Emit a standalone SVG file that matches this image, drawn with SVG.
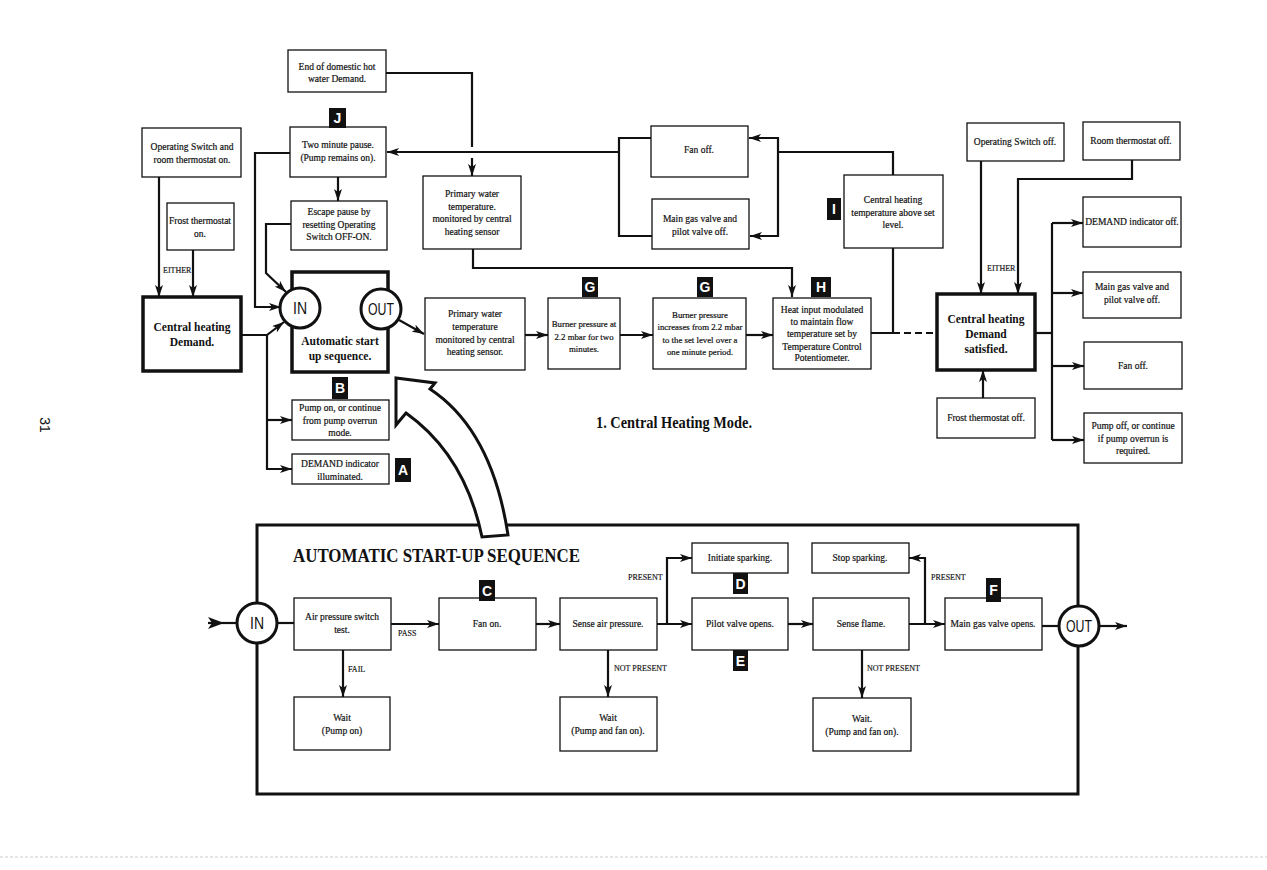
<svg xmlns="http://www.w3.org/2000/svg" width="1267" height="870" viewBox="0 0 1267 870">
<defs>
<style>
.b{fill:#fff;stroke:#111;stroke-width:1.3}
.tb{fill:#fff;stroke:#111;stroke-width:3.5}
.t{font-family:"Liberation Serif",serif;font-size:9.5px;text-anchor:middle;fill:#111;stroke:#111;stroke-width:0.2}
.n{font-size:8.8px}
.h{font-family:"Liberation Serif",serif;font-size:11.5px;font-weight:bold;text-anchor:middle;fill:#111}
.s{font-family:"Liberation Serif",serif;font-size:8px;fill:#111;stroke:#111;stroke-width:0.15}
.c{fill:none;stroke:#111;stroke-width:2.2}
.cir{fill:#fff;stroke:#111;stroke-width:3}
.io{font-family:"Liberation Sans",sans-serif;font-size:16px;text-anchor:middle;fill:#111}
.lr{fill:#111}
.lt{font-family:"Liberation Sans",sans-serif;font-size:14px;font-weight:bold;text-anchor:middle;fill:#fff}
</style>
<marker id="ah" viewBox="0 0 12 8" refX="12" refY="4" markerWidth="12" markerHeight="8" orient="auto" markerUnits="userSpaceOnUse"><path d="M0,0 L12,4 L0,8 L3,4 z" fill="#111"/></marker>
</defs>
<rect x="0" y="0" width="1267" height="870" fill="#fff"/>
<line x1="0" y1="857" x2="1267" y2="857" stroke="#ccc" stroke-width="1" stroke-dasharray="3 2"/>
<text x="40" y="425" transform="rotate(90 40 425)" font-family="Liberation Sans,sans-serif" font-size="14" text-anchor="middle" fill="#111">31</text>

<g id="startupFrame">
<rect x="257" y="525" width="821" height="269" fill="none" stroke="#111" stroke-width="3"/>
<text x="293" y="562" font-family="Liberation Serif,serif" font-size="18" font-weight="bold" textLength="287" lengthAdjust="spacingAndGlyphs" fill="#111">AUTOMATIC START-UP SEQUENCE</text>
</g>

<g id="connectors">
<path class="c" d="M386,73 H472 V147"/>
<path class="c" d="M472,158 V176" marker-end="url(#ah)"/>
<path class="c" d="M619,152 H387" marker-end="url(#ah)"/>
<path class="c" d="M651,138 H619 V236 H652"/>
<path class="c" d="M871,333 H893 V248"/>
<path class="c" d="M893,175 V152 H778"/>
<path class="c" d="M778,152 V138 H749" marker-end="url(#ah)"/>
<path class="c" d="M778,152 V236 H750" marker-end="url(#ah)"/>
<path class="c" d="M893,333 H937" stroke-dasharray="7 4"/>
<path class="c" d="M473,249 V268 H792 V297" marker-end="url(#ah)"/>
<path class="c" d="M399,320 L424,334" marker-end="url(#ah)"/>
<path class="c" d="M525,335 H548" marker-end="url(#ah)"/>
<path class="c" d="M620,335 H653" marker-end="url(#ah)"/>
<path class="c" d="M746,335 H773" marker-end="url(#ah)"/>
<path class="c" d="M338,177 V201" marker-end="url(#ah)"/>
<path class="c" d="M290,153 H255 V307 H281" marker-end="url(#ah)"/>
<path class="c" d="M291,224 H266 V273 L286,292" marker-end="url(#ah)"/>
<path class="c" d="M241,335 H267 L284,322" marker-end="url(#ah)"/>
<path class="c" d="M267,335 V469 H292" marker-end="url(#ah)"/>
<path class="c" d="M267,420 H292" marker-end="url(#ah)"/>
<path class="c" d="M159,177 V297" marker-end="url(#ah)"/>
<path class="c" d="M193,250 V297" marker-end="url(#ah)"/>
<path class="c" d="M981,161 V294" marker-end="url(#ah)"/>
<path class="c" d="M1132,160 V179 H1018 V294" marker-end="url(#ah)"/>
<path class="c" d="M983,398 V370" marker-end="url(#ah)"/>
<path class="c" d="M1035,333 H1052"/>
<path class="c" d="M1052,223 V440"/>
<path class="c" d="M1052,223 H1083" marker-end="url(#ah)"/>
<path class="c" d="M1052,293 H1083" marker-end="url(#ah)"/>
<path class="c" d="M1052,366 H1084" marker-end="url(#ah)"/>
<path class="c" d="M1052,440 H1084" marker-end="url(#ah)"/>
<path class="c" d="M208,623 H237"/>
<path d="M208,617 L224,623 L208,629 L212,623 z" fill="#111"/>
<path class="c" d="M277,623 H294"/>
<path class="c" d="M391,624 H439" marker-end="url(#ah)"/>
<path class="c" d="M536,624 H560" marker-end="url(#ah)"/>
<path class="c" d="M657,624 H692" marker-end="url(#ah)"/>
<path class="c" d="M667,624 V558 H692" marker-end="url(#ah)"/>
<path class="c" d="M788,624 H813" marker-end="url(#ah)"/>
<path class="c" d="M909,624 H945" marker-end="url(#ah)"/>
<path class="c" d="M925,624 V558 H909" marker-end="url(#ah)"/>
<path class="c" d="M1042,626 H1059"/>
<path class="c" d="M1099,626 H1127" marker-end="url(#ah)"/>
<path class="c" d="M343,650 V697" marker-end="url(#ah)"/>
<path class="c" d="M608,650 V697" marker-end="url(#ah)"/>
<path class="c" d="M862,650 V698" marker-end="url(#ah)"/>
<path d="M396,378 L396,425 L406,413 Q465,455 482,537 L508,535 Q492,430 430,389 L435,383 Z" fill="#fff" stroke="#111" stroke-width="3" stroke-linejoin="miter"/>
</g>

<g id="edgeLabels">
<text class="s" x="163" y="273">EITHER</text>
<text class="s" x="987" y="271">EITHER</text>
<text class="s" x="398" y="636">PASS</text>
<text class="s" x="348" y="672">FAIL</text>
<text class="s" x="628" y="580">PRESENT</text>
<text class="s" x="931" y="580">PRESENT</text>
<text class="s" x="614" y="671">NOT PRESENT</text>
<text class="s" x="867" y="671">NOT PRESENT</text>
<text x="596" y="428" font-family="Liberation Serif,serif" font-size="17" font-weight="bold" textLength="156" lengthAdjust="spacingAndGlyphs" fill="#111">1. Central Heating Mode.</text>
</g>

<g id="endDHW"><rect class="b" x="288" y="50" width="98" height="42"/><text class="t" x="337" y="70">End of domestic hot</text><text class="t" x="337" y="82">water Demand.</text></g>
<g id="twoMin"><rect class="b" x="290" y="127" width="96" height="50"/><text class="t" x="338" y="148">Two minute pause.</text><text class="t" x="338" y="161">(Pump remains on).</text></g>
<g id="escape"><rect class="b" x="291" y="201" width="96" height="49"/><text class="t" x="339" y="215">Escape pause by</text><text class="t" x="339" y="228">resetting Operating</text><text class="t" x="339" y="240">Switch OFF-ON.</text></g>
<g id="opOn"><rect class="b" x="142" y="128" width="99" height="49"/><text class="t" x="192" y="150">Operating Switch and</text><text class="t" x="192" y="163">room thermostat on.</text></g>
<g id="frostOn"><rect class="b" x="167" y="203" width="67" height="47"/><text class="t" x="200" y="224">Frost thermostat</text><text class="t" x="200" y="237">on.</text></g>
<g id="chDemand"><rect class="tb" x="143" y="297" width="98" height="74"/><text class="h" x="192" y="331">Central heating</text><text class="h" x="192" y="346">Demand.</text></g>
<g id="autoStart"><rect class="tb" x="292" y="272" width="96" height="100"/>
<circle class="cir" cx="300" cy="308" r="20"/><text class="io" x="300" y="314" textLength="14" lengthAdjust="spacingAndGlyphs">IN</text>
<circle class="cir" cx="381" cy="309" r="20"/><text class="io" x="381" y="315" textLength="26" lengthAdjust="spacingAndGlyphs">OUT</text>
<text class="h" x="340" y="345">Automatic start</text><text class="h" x="340" y="360">up sequence.</text></g>
<g id="pumpOn"><rect class="b" x="292" y="400" width="97" height="40"/><text class="t" x="340" y="411">Pump on, or continue</text><text class="t" x="340" y="424">from pump overrun</text><text class="t" x="340" y="436">mode.</text></g>
<g id="demandInd"><rect class="b" x="292" y="454" width="97" height="30"/><text class="t" x="340" y="467">DEMAND indicator</text><text class="t" x="340" y="480">illuminated.</text></g>
<g id="primary1"><rect class="b" x="423" y="176" width="98" height="73"/><text class="t" x="472" y="197">Primary water</text><text class="t" x="472" y="210">temperature.</text><text class="t" x="472" y="222">monitored by central</text><text class="t" x="472" y="235">heating sensor</text></g>
<g id="fanOff1"><rect class="b" x="651" y="126" width="97" height="51"/><text class="t" x="699" y="153">Fan off.</text></g>
<g id="mainGas1"><rect class="b" x="652" y="199" width="97" height="50"/><text class="t" x="700" y="222">Main gas valve and</text><text class="t" x="700" y="235">pilot valve off.</text></g>
<g id="chTemp"><rect class="b" x="844" y="175" width="99" height="73"/><text class="t" x="893" y="203">Central heating</text><text class="t" x="893" y="216">temperature above set</text><text class="t" x="893" y="228">level.</text></g>
<g id="primary2"><rect class="b" x="425" y="298" width="100" height="72"/><text class="t" x="475" y="317">Primary water</text><text class="t" x="475" y="330">temperature</text><text class="t" x="475" y="343">monitored by central</text><text class="t" x="475" y="355">heating sensor.</text></g>
<g id="burner1"><rect class="b" x="548" y="298" width="72" height="71"/><text class="t n" x="584" y="327">Burner pressure at</text><text class="t n" x="584" y="340">2.2 mbar for two</text><text class="t n" x="584" y="352">minutes.</text></g>
<g id="burner2"><rect class="b" x="653" y="298" width="93" height="71"/><text class="t n" x="700" y="318">Burner pressure</text><text class="t n" x="700" y="330">increases from 2.2 mbar</text><text class="t n" x="700" y="343">to the set level over a</text><text class="t n" x="700" y="355">one minute period.</text></g>
<g id="heatInput"><rect class="b" x="773" y="298" width="98" height="71"/><text class="t" x="822" y="313">Heat input modulated</text><text class="t" x="822" y="325">to maintain flow</text><text class="t" x="822" y="337">temperature set by</text><text class="t" x="822" y="350">Temperature Control</text><text class="t" x="822" y="361">Potentiometer.</text></g>
<g id="opOff"><rect class="b" x="967" y="123" width="97" height="38"/><text class="t" x="1015" y="145">Operating Switch off.</text></g>
<g id="roomOff"><rect class="b" x="1083" y="122" width="97" height="38"/><text class="t" x="1131" y="144">Room thermostat off.</text></g>
<g id="chSatisfied"><rect class="tb" x="937" y="294" width="98" height="76"/><text class="h" x="986" y="323">Central heating</text><text class="h" x="986" y="338">Demand</text><text class="h" x="986" y="353">satisfied.</text></g>
<g id="frostOff"><rect class="b" x="937" y="398" width="98" height="40"/><text class="t" x="986" y="421">Frost thermostat off.</text></g>
<g id="demOff"><rect class="b" x="1083" y="197" width="98" height="50"/><text class="t" x="1132" y="225">DEMAND indicator off.</text></g>
<g id="mainGasOff"><rect class="b" x="1083" y="272" width="98" height="46"/><text class="t" x="1132" y="290">Main gas valve and</text><text class="t" x="1132" y="303">pilot valve off.</text></g>
<g id="fanOff2"><rect class="b" x="1084" y="342" width="98" height="47"/><text class="t" x="1133" y="369">Fan off.</text></g>
<g id="pumpOff"><rect class="b" x="1084" y="413" width="98" height="50"/><text class="t" x="1133" y="429">Pump off, or continue</text><text class="t" x="1133" y="442">if pump overrun is</text><text class="t" x="1133" y="454">required.</text></g>

<g id="inBottom"><circle class="cir" cx="257" cy="623" r="20"/><text class="io" x="257" y="629" textLength="14" lengthAdjust="spacingAndGlyphs">IN</text></g>
<g id="outBottom"><circle class="cir" cx="1079" cy="626" r="20"/><text class="io" x="1079" y="632" textLength="26" lengthAdjust="spacingAndGlyphs">OUT</text></g>
<g id="airTest"><rect class="b" x="294" y="598" width="97" height="52"/><text class="t" x="342" y="620">Air pressure switch</text><text class="t" x="342" y="633">test.</text></g>
<g id="fanOn"><rect class="b" x="439" y="598" width="97" height="52"/><text class="t" x="487" y="627">Fan on.</text></g>
<g id="senseAir"><rect class="b" x="560" y="598" width="97" height="52"/><text class="t" x="608" y="627">Sense air pressure.</text></g>
<g id="initSpark"><rect class="b" x="692" y="543" width="96" height="30"/><text class="t" x="740" y="561">Initiate sparking.</text></g>
<g id="pilot"><rect class="b" x="692" y="598" width="96" height="52"/><text class="t" x="740" y="627">Pilot valve opens.</text></g>
<g id="senseFlame"><rect class="b" x="813" y="598" width="96" height="52"/><text class="t" x="861" y="627">Sense flame.</text></g>
<g id="stopSpark"><rect class="b" x="812" y="543" width="97" height="30"/><text class="t" x="860" y="561">Stop sparking.</text></g>
<g id="mainOpen"><rect class="b" x="945" y="598" width="97" height="52"/><text class="t" x="993" y="627">Main gas valve opens.</text></g>
<g id="wait1"><rect class="b" x="294" y="697" width="96" height="53"/><text class="t" x="342" y="721">Wait</text><text class="t" x="342" y="734">(Pump on)</text></g>
<g id="wait2"><rect class="b" x="560" y="697" width="97" height="54"/><text class="t" x="608" y="721">Wait</text><text class="t" x="608" y="734">(Pump and fan on).</text></g>
<g id="wait3"><rect class="b" x="813" y="698" width="98" height="53"/><text class="t" x="862" y="722">Wait.</text><text class="t" x="862" y="735">(Pump and fan on).</text></g>

<g id="labels">
<rect class="lr" x="329" y="108" width="17" height="20"/><text class="lt" x="337.5" y="123">J</text>
<rect class="lr" x="332" y="377" width="16" height="22"/><text class="lt" x="340" y="393">B</text>
<rect class="lr" x="395" y="458" width="16" height="24"/><text class="lt" x="403" y="475">A</text>
<rect class="lr" x="582" y="277" width="16" height="20"/><text class="lt" x="590" y="292">G</text>
<rect class="lr" x="697" y="277" width="16" height="20"/><text class="lt" x="705" y="292">G</text>
<rect class="lr" x="811" y="277" width="20" height="20"/><text class="lt" x="821" y="292">H</text>
<rect class="lr" x="827" y="198" width="14" height="22"/><text class="lt" x="834" y="214">I</text>
<rect class="lr" x="479" y="580" width="16" height="21"/><text class="lt" x="487" y="596">C</text>
<rect class="lr" x="733" y="573" width="15" height="21"/><text class="lt" x="740.5" y="589">D</text>
<rect class="lr" x="733" y="650" width="15" height="21"/><text class="lt" x="740.5" y="666">E</text>
<rect class="lr" x="986" y="578" width="15" height="24"/><text class="lt" x="993.5" y="595">F</text>
</g>
</svg>
